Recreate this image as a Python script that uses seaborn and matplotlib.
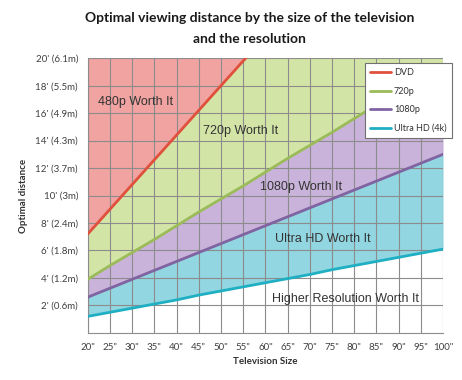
import matplotlib
matplotlib.use('Agg')
import matplotlib.pyplot as plt
import seaborn as sns
import pandas as pd

# --- DATA ---
sizes = [20, 25, 30, 35, 40, 45, 50, 55, 60, 65, 70, 75, 80, 85, 90, 95, 100]
dvd = [7.2, 9.0, 10.8, 12.6, 14.4, 16.2, 18.0, 19.8, 21.6, 23.4, 25.2, 27.0, 28.8, 30.6, 32.4, 34.2, 36.0]
p720 = [3.9, 4.9, 5.85, 6.8, 7.8, 8.8, 9.75, 10.7, 11.7, 12.7, 13.65, 14.6, 15.6, 16.6, 17.55, 18.5, 19.5]
p1080 = [2.6, 3.25, 3.9, 4.55, 5.2, 5.85, 6.5, 7.15, 7.8, 8.45, 9.1, 9.75, 10.4, 11.05, 11.7, 12.35, 13.0]
uhd = [1.2, 1.5, 1.8, 2.1, 2.4, 2.75, 3.05, 3.35, 3.65, 3.95, 4.25, 4.6, 4.9, 5.2, 5.5, 5.8, 6.1]

series_names = ["DVD", "720p", "1080p", "Ultra HD (4k)"]
line_colors = ["#E0503C", "#9BBB59", "#8064A2", "#1FAFC2"]
fill_colors = ["#F0A3A1", "#D3E5A6", "#CAB3DA", "#92D6E1"]

y_ticks = [2, 4, 6, 8, 10, 12, 14, 16, 18, 20]
y_labels = ["2' (0.6m)", "4' (1.2m)", "6' (1.8m)", "8' (2.4m)", "10' (3m)",
            "12' (3.7m)", "14' (4.3m)", "16' (4.9m)", "18' (5.5m)", "20' (6.1m)"]
x_labels = [f'{s}"' for s in sizes]

region_labels = ["480p Worth It", "720p Worth It", "1080p Worth It",
                 "Ultra HD Worth It", "Higher Resolution Worth It"]
region_pos = [(30.8, 16.8), (54.5, 14.7), (68, 10.6), (73, 6.8), (78, 2.5)]

df = pd.DataFrame({"size": sizes, "DVD": dvd, "720p": p720,
                   "1080p": p1080, "Ultra HD (4k)": uhd})
long = df.melt(id_vars="size", var_name="format", value_name="distance")

sns.set_style("white")
plt.rcParams['font.family'] = ['Lato', 'DejaVu Sans']

fig = plt.figure(figsize=(4.62, 3.8), dpi=100)
ax = fig.add_axes([0.190, 0.124, 0.769, 0.723])

# shaded regions between the curves
ax.fill_between(sizes, dvd, 20, color=fill_colors[0], lw=0, zorder=1)
ax.fill_between(sizes, p720, dvd, color=fill_colors[1], lw=0, zorder=1)
ax.fill_between(sizes, p1080, p720, color=fill_colors[2], lw=0, zorder=1)
ax.fill_between(sizes, uhd, p1080, color=fill_colors[3], lw=0, zorder=1)

sns.lineplot(data=long, x="size", y="distance", hue="format",
             hue_order=series_names, palette=line_colors, linewidth=2,
             ax=ax, zorder=3)

ax.set_xlim(20, 100)
ax.set_ylim(0, 20)
ax.set_xticks(sizes)
ax.set_xticklabels(x_labels, fontsize=7, color="#404040")
ax.set_yticks(y_ticks)
ax.set_yticklabels(y_labels, fontsize=7, color="#404040")
ax.grid(True, color="#8C8C8C", linewidth=0.8, zorder=2)
ax.set_axisbelow(False)
for sp in ax.spines.values():
    sp.set_color("#8C8C8C")
    sp.set_linewidth(0.8)
ax.spines['top'].set_visible(False)
ax.spines['right'].set_visible(False)
ax.tick_params(axis='both', length=4, color="#8C8C8C", pad=3)

ax.set_xlabel("Television Size", fontsize=7, fontweight='bold', color="#303030", labelpad=4)
ax.set_ylabel("Optimal distance", fontsize=7, fontweight='bold', color="#303030")
ax.yaxis.set_label_coords(-0.168, 0.5)

for txt, (x, y) in zip(region_labels, region_pos):
    ax.text(x, y, txt, fontsize=9, color="#333333", ha='center', va='center',
            family=['Liberation Sans', 'DejaVu Sans'], zorder=4)

leg = ax.legend(loc='upper right', bbox_to_anchor=(1.025, 0.983), fontsize=6.5,
                frameon=True, fancybox=False, framealpha=1, edgecolor="#707070",
                handlelength=2.3, labelspacing=1.05, borderpad=0.6, handletextpad=0.3,
                borderaxespad=0)
leg.get_frame().set_linewidth(0.8)
for t in leg.get_texts():
    t.set_color("#303030")

fig.text(0.54, 0.952, "Optimal viewing distance by the size of the television",
         fontsize=10, fontweight='bold', ha='center', va='center', color="#1a1a1a")
fig.text(0.54, 0.898, "and the resolution",
         fontsize=10, fontweight='bold', ha='center', va='center', color="#1a1a1a")

fig.savefig("out.png", dpi=100)
plt.close(fig)
